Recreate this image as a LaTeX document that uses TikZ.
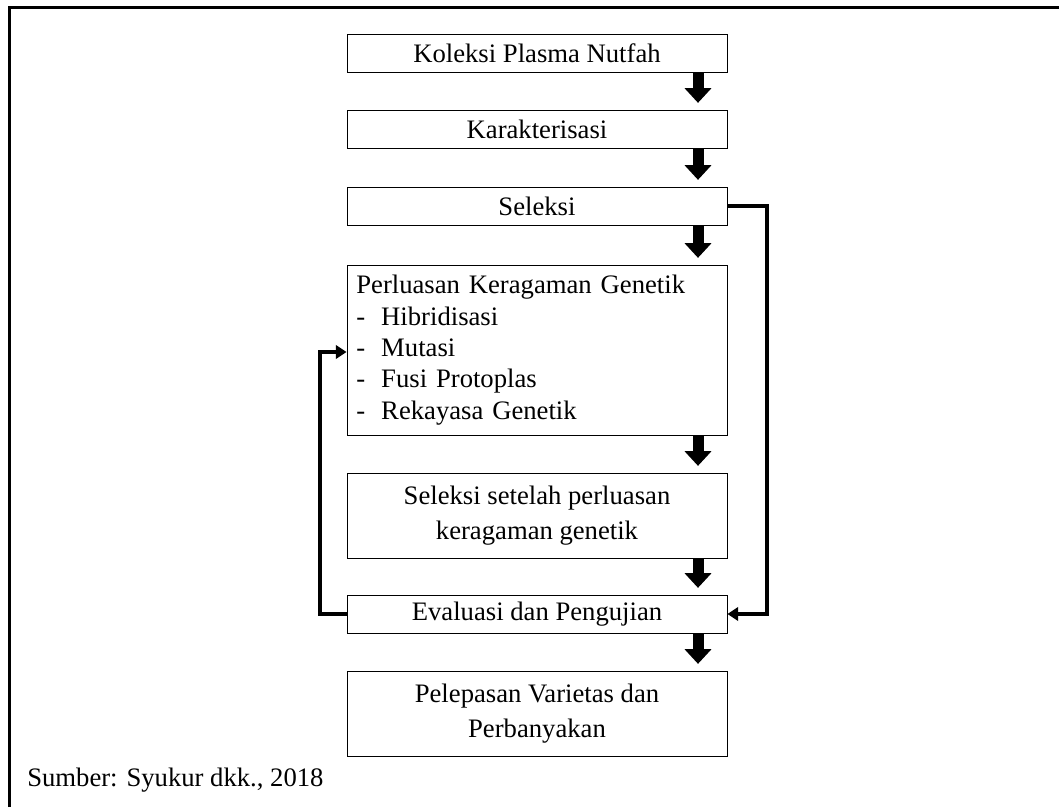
\documentclass[tikz,border=0pt]{standalone}
\usepackage{fontspec}
\setmainfont{Liberation Serif}
\usetikzlibrary{arrows.meta}

\begin{document}
\begin{tikzpicture}[x=0.75pt,y=-0.75pt,
  box/.style={draw,line width=0.7pt,minimum width=285pt,inner sep=0pt,font=\fontsize{20}{26.5}\selectfont},
  blockarrow/.style={line width=8.25pt,-{Triangle[length=11pt,width=19.5pt]},shorten >=5pt},
  loop/.style={line width=2.3pt,-{Triangle[length=8pt,width=10pt]}}]
  \useasboundingbox (0,0) rectangle (1059,807);
  \draw[line width=2.3pt] (9.5,807) -- (9.5,7.5) -- (1059,7.5);

  \node [box,minimum height=28.5pt] (koleksi) at (537,53) {Koleksi Plasma Nutfah};
  \node [box,minimum height=28.5pt] (karakter) at (537,129) {Karakterisasi};
  \node [box,minimum height=28.5pt] (seleksi) at (537,206) {Seleksi};
  \node [box,minimum height=127.5pt,align=left,text width=271pt,font=\fontsize{20}{23.5}\selectfont] (perluasan) at (537,350)
    {Perluasan Keragaman Genetik\\
     -\hspace{0.6em}Hibridisasi\\
     -\hspace{0.6em}Mutasi\\
     -\hspace{0.6em}Fusi Protoplas\\
     -\hspace{0.6em}Rekayasa Genetik};
  \node [box,minimum height=63.75pt,align=center] (seleksi2) at (537,515.5)
    {Seleksi setelah perluasan\\keragaman genetik};
  \node [box,minimum height=28.5pt] (evaluasi) at (537,614) {Evaluasi dan Pengujian};
  \node [box,minimum height=63.75pt,align=center] (pelepasan) at (537,713.5)
    {Pelepasan Varietas dan\\Perbanyakan};
  \node [anchor=west,inner sep=0pt,font=\fontsize{20}{26.5}\selectfont] (sumber) at (27,780) {Sumber: Syukur dkk., 2018};

  \coordinate (ax) at (698,0);
  \foreach \a/\b in {koleksi/karakter,karakter/seleksi,seleksi/perluasan,
                     perluasan/seleksi2,seleksi2/evaluasi,evaluasi/pelepasan}
    \draw [blockarrow] (\a.south -| ax) -- (\b.north -| ax);

  \coordinate (right) at (767,0);
  \coordinate (left) at (320,352);
  \draw [loop] (seleksi.east) -- (seleksi.east -| right) -- (evaluasi.east -| right) -- (evaluasi.east);
  \draw [loop] (evaluasi.west) -- (evaluasi.west -| left) -- (left) -- (left -| perluasan.west);
\end{tikzpicture}
\end{document}
